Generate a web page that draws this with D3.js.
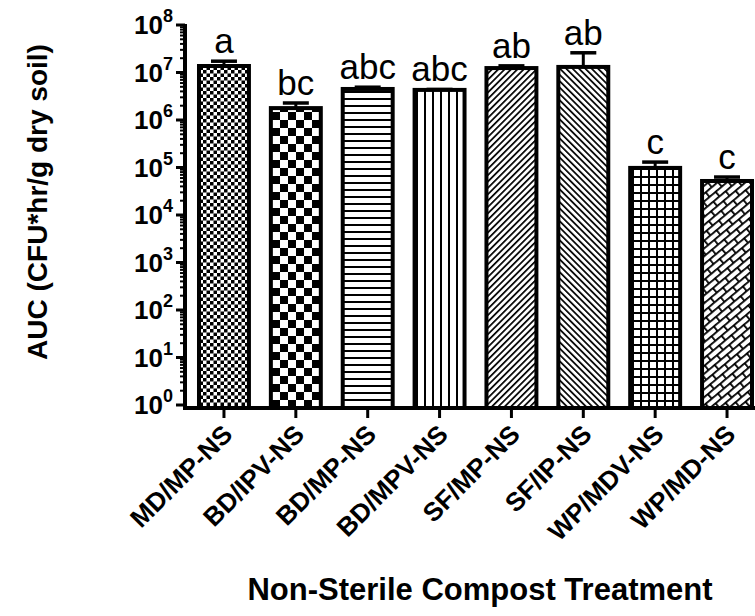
<!DOCTYPE html>
<html><head><meta charset="utf-8">
<script src="https://cdn.jsdelivr.net/npm/d3@7"></script>
<style>body{margin:0;background:#fff}svg{display:block}text{font-family:"Liberation Sans",Arial,sans-serif}</style>
</head><body>
<svg id="c" width="755" height="616"></svg>
<script>
const categories = ["MD/MP-NS","BD/IPV-NS","BD/MP-NS","BD/MPV-NS","SF/MP-NS","SF/IP-NS","WP/MDV-NS","WP/MD-NS"];
const means = [1.37e7, 1.78e6, 4.5e6, 4.3e6, 1.24e7, 1.31e7, 9.8e4, 5.2e4];
const sems = [3.6e6, 5.0e5, 4.0e5, 1.0e5, 1.4e6, 1.29e7, 3.2e4, 1.1e4];
const letters = ["a","bc","abc","abc","ab","ab","c","c"];
const tickExponents = [0,1,2,3,4,5,6,7,8];
const patternIds = ["p1","p2","p3","p4","p5","p6","p7","p8"];
const yTitle = "AUC (CFU*hr/g dry soil)";
const xTitle = "Non-Sterile Compost Treatment";

const svg = d3.select("#c");
const defs = svg.append("defs");
function pat(id, w, h, extra){ const p = defs.append("pattern").attr("id",id).attr("patternUnits","userSpaceOnUse").attr("width",w).attr("height",h); if(extra) p.attr("patternTransform",extra); p.append("rect").attr("width",w).attr("height",h).attr("fill","#fff"); return p; }
let p = pat("p1",7,7); p.append("rect").attr("width",3.5).attr("height",3.5); p.append("rect").attr("x",3.5).attr("y",3.5).attr("width",3.5).attr("height",3.5);
p = pat("p2",16,16); p.append("rect").attr("width",8).attr("height",8); p.append("rect").attr("x",8).attr("y",8).attr("width",8).attr("height",8);
p = pat("p3",10,7); p.append("rect").attr("y",0).attr("width",10).attr("height",2);
p = pat("p4",8,10); p.append("rect").attr("x",0).attr("width",2).attr("height",10);
p = pat("p5",4.5,10,"rotate(45)"); p.append("rect").attr("width",1.7).attr("height",10);
p = pat("p6",4.5,10,"rotate(-45)"); p.append("rect").attr("width",1.7).attr("height",10);
p = pat("p7",8,8); p.append("rect").attr("width",8).attr("height",2); p.append("rect").attr("width",2).attr("height",8);
p = pat("p8",16,12,"rotate(-40)"); p.append("rect").attr("width",16).attr("height",1.8); p.append("rect").attr("y",6).attr("width",16).attr("height",1.8);
p.append("rect").attr("x",0).attr("width",1.8).attr("height",6); p.append("rect").attr("x",8).attr("y",6).attr("width",1.8).attr("height",6);

const y = d3.scaleLog().domain([1,1e8]).range([405,25]);
const x = d3.scaleBand().domain(categories).range([188,763]).paddingInner(0.305).paddingOuter(0.153);
const axX = 185, axBottom = 408;

const g = svg.append("g");
categories.forEach((c,i)=>{
  g.append("rect").attr("x",x(c)).attr("y",y(means[i])).attr("width",x.bandwidth()).attr("height",axBottom - y(means[i]))
   .attr("fill",`url(#${patternIds[i]})`).attr("stroke","#000").attr("stroke-width",4);
  const cx = x(c)+x.bandwidth()/2, top = y(means[i]+sems[i]);
  g.append("line").attr("x1",cx).attr("x2",cx).attr("y1",y(means[i])).attr("y2",top).attr("stroke","#000").attr("stroke-width",3);
  g.append("line").attr("x1",cx-13).attr("x2",cx+13).attr("y1",top).attr("y2",top).attr("stroke","#000").attr("stroke-width",3.5);
  g.append("text").attr("x",cx).attr("y",top-8).attr("text-anchor","middle").attr("font-size",35).text(letters[i]);
});

svg.append("line").attr("x1",axX).attr("x2",axX).attr("y1",y(1e8)-1).attr("y2",axBottom+2).attr("stroke","#000").attr("stroke-width",4);
const minor = [];
for(let e=0;e<8;e++) for(let m=2;m<=9;m++) minor.push(m*Math.pow(10,e));
svg.append("g").selectAll("line").data(minor).join("line").attr("x1",axX-5).attr("x2",axX).attr("y1",d=>y(d)).attr("y2",d=>y(d)).attr("stroke","#000").attr("stroke-width",2);
svg.append("g").selectAll("line").data(tickExponents).join("line").attr("x1",axX-9).attr("x2",axX).attr("y1",d=>y(Math.pow(10,d))).attr("y2",d=>y(Math.pow(10,d))).attr("stroke","#000").attr("stroke-width",3);
const tl = svg.append("g").selectAll("text").data(tickExponents).join("text")
  .attr("x",173).attr("y",d=>y(Math.pow(10,d))+9).attr("text-anchor","end").attr("font-weight","bold").attr("font-size",26);
tl.append("tspan").text("10");
tl.append("tspan").attr("dy",-12).attr("font-size",18).text(d=>d);

svg.append("line").attr("x1",axX-2).attr("x2",755).attr("y1",axBottom).attr("y2",axBottom).attr("stroke","#000").attr("stroke-width",4);
svg.append("g").selectAll("line").data(categories).join("line").attr("x1",d=>x(d)+x.bandwidth()/2).attr("x2",d=>x(d)+x.bandwidth()/2).attr("y1",axBottom).attr("y2",axBottom+10).attr("stroke","#000").attr("stroke-width",3);
svg.append("g").selectAll("text").data(categories).join("text")
  .attr("transform",d=>`translate(${x(d)+x.bandwidth()/2+10},${436}) rotate(-45)`)
  .attr("text-anchor","end").attr("font-weight","bold").attr("font-size",26).text(d=>d);

svg.append("text").attr("transform","translate(47,202) rotate(-90)").attr("text-anchor","middle").attr("font-weight","bold").attr("font-size",28).text(yTitle);
svg.append("text").attr("x",480).attr("y",600).attr("text-anchor","middle").attr("font-weight","bold").attr("font-size",31).text(xTitle);
</script>
</body></html>
